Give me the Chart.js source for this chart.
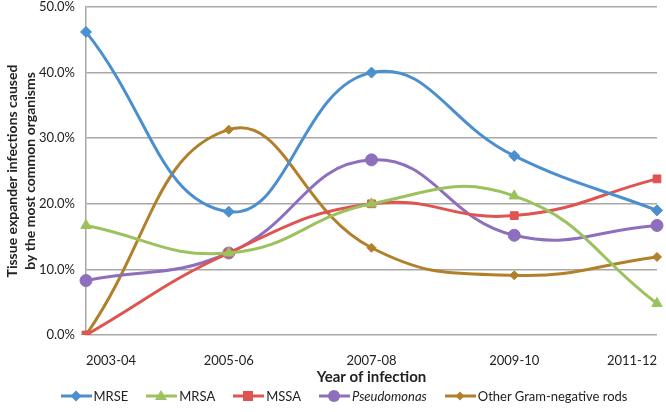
<!DOCTYPE html>
<html>
<head>
<meta charset="utf-8">
<script src="https://cdn.jsdelivr.net/npm/chart.js@4"></script>
<style>
  body { margin: 0; background: #fff; font-family: Lato, "Open Sans", sans-serif; }
  #wrap { position: relative; width: 666px; height: 412px; }
  #box { position: absolute; left: 0; top: 0; width: 666px; height: 386px; }
  #legenda { position: absolute; left: 0; top: 385px; width: 666px; height: 22px;
    display: flex; justify-content: center; align-items: center; gap: 18px;
    font-size: 13px; color: #222; padding-left: 22px; box-sizing: border-box; }
  #legenda .item { display: flex; align-items: center; gap: 2px; }
</style>
</head>
<body>
<div id="wrap">
  <div id="box"><canvas id="grafico"></canvas></div>
  <div id="legenda"></div>
</div>
<script>
// dados
const anos = ["2003-04", "2005-06", "2007-08", "2009-10", "2011-12"];
const mrse = [46.2, 18.8, 40.0, 27.3, 19.0];
const mrsa = [16.7, 12.5, 20.0, 21.2, 4.8];
const mssa = [0, 12.5, 20.0, 18.2, 23.8];
const pseudomonas = [8.3, 12.5, 26.7, 15.2, 16.7];
const outrosGram = [0, 31.3, 13.3, 9.1, 11.9];
const ticksY = [0, 10, 20, 30, 40, 50];

const series = [
  { nome: "MRSE", dados: mrse, cor: "#4b8fce", ponto: "rectRot", raio: 5.5 },
  { nome: "MRSA", dados: mrsa, cor: "#9bc25c", ponto: "triangle", raio: 6 },
  { nome: "MSSA", dados: mssa, cor: "#df5450", ponto: "rect", raio: 5.5 },
  { nome: "Pseudomonas", dados: pseudomonas, cor: "#8d6fbd", ponto: "circle", raio: 6, italico: true },
  { nome: "Other Gram-negative rods", dados: outrosGram, cor: "#b27f2b", ponto: "rectRot", raio: 4.5 }
];

const fonte = "Lato, 'Open Sans', sans-serif";

new Chart(document.getElementById("grafico"), {
  type: "line",
  data: {
    labels: anos,
    datasets: series.map(s => ({
      label: s.nome,
      data: s.dados,
      borderColor: s.cor,
      backgroundColor: s.cor,
      borderWidth: 3,
      pointStyle: s.ponto,
      pointRadius: s.raio,
      pointBorderWidth: 1,
      tension: 0.45,
      fill: false
    }))
  },
  options: {
    responsive: true,
    maintainAspectRatio: false,
    animation: false,
    layout: { padding: { top: 4, right: 9, left: 0, bottom: 0 } },
    plugins: { legend: { display: false }, tooltip: { enabled: false } },
    scales: {
      x: {
        offset: false,
        grid: { display: false },
        border: { display: false },
        ticks: { color: "#222", font: { family: fonte, size: 13 }, padding: 10, maxRotation: 0, autoSkip: false, align: "inner" },
        title: { display: true, text: "Year of infection", color: "#222", font: { family: fonte, size: 15, weight: "bold" }, padding: { top: 1, bottom: 0 } },
        afterFit: axis => { axis.height = 51; axis.paddingLeft = 0; axis.paddingRight = 0; }
      },
      y: {
        min: 0, max: 50,
        afterBuildTicks: axis => { axis.ticks = ticksY.map(v => ({ value: v })); },
        grid: { color: "#a8a8a8", lineWidth: 1.5, drawTicks: false },
        border: { color: "#a8a8a8", width: 1.5 },
        ticks: { color: "#222", font: { family: fonte, size: 13 }, padding: 11, callback: v => v.toFixed(1) + "%" },
        title: { display: true, text: ["Tissue expander infections caused", "by the most common organisms"], color: "#222", font: { family: fonte, size: 14, weight: "bold", lineHeight: 1.3 }, padding: { top: 3, bottom: 0 } },
        afterFit: axis => { axis.width = 86; axis.paddingTop = 0; axis.paddingBottom = 0; }
      }
    }
  }
});

// legenda em HTML (linha + marcador, Pseudomonas em itálico)
function iconeSvg(s) {
  let marca = "";
  if (s.ponto === "rectRot") marca = `<polygon points="15,${9 - s.raio} ${15 + s.raio},9 15,${9 + s.raio} ${15 - s.raio},9" fill="${s.cor}"/>`;
  else if (s.ponto === "triangle") marca = `<polygon points="15,3 21,13 9,13" fill="${s.cor}"/>`;
  else if (s.ponto === "rect") marca = `<rect x="10" y="4" width="10" height="10" fill="${s.cor}"/>`;
  else marca = `<circle cx="15" cy="9" r="6" fill="${s.cor}"/>`;
  return `<svg width="31" height="18"><line x1="0" y1="9" x2="31" y2="9" stroke="${s.cor}" stroke-width="3"/>${marca}</svg>`;
}
const legenda = document.getElementById("legenda");
series.forEach(s => {
  const item = document.createElement("div");
  item.className = "item";
  item.innerHTML = iconeSvg(s) + `<span style="${s.italico ? "font-style:italic" : ""}">${s.nome}</span>`;
  legenda.appendChild(item);
});
</script>
</body>
</html>
